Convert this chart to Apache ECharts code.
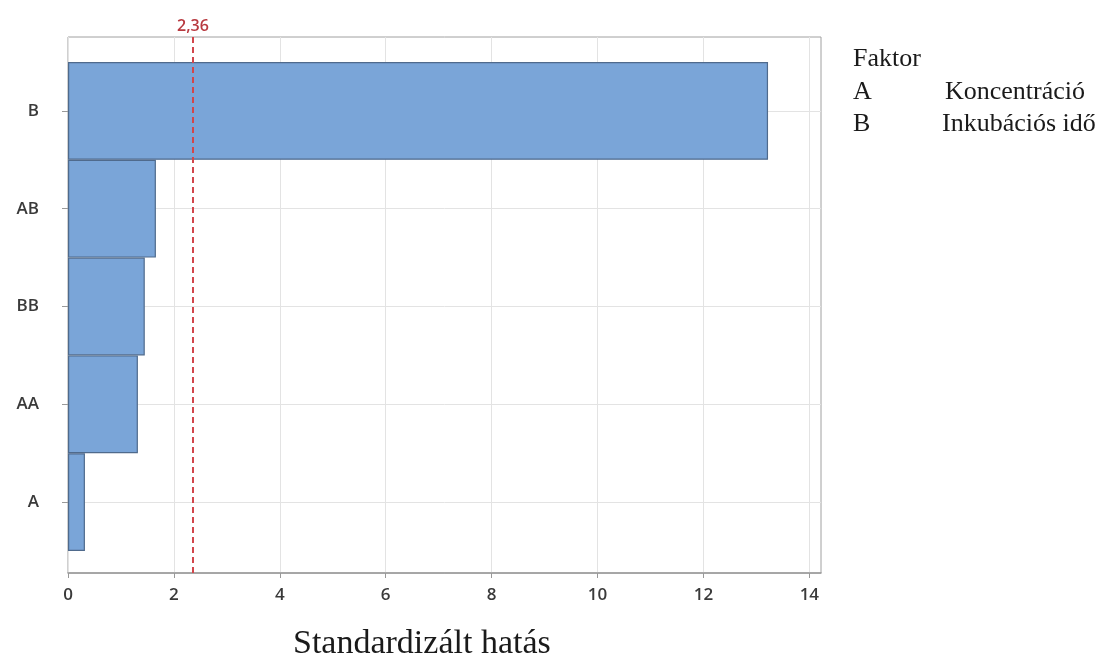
<!DOCTYPE html>
<html>
<head>
<meta charset="utf-8">
<script src="https://cdn.jsdelivr.net/npm/echarts@6/dist/echarts.min.js"></script>
<style>
    html, body { margin: 0; padding: 0; background: #fff; }
    #chart { width: 1107px; height: 664px; }
</style>
</head>
<body>
<div id="chart"></div>
<script>
// adatok
var categories = ['B', 'AB', 'BB', 'AA', 'A'];
var effects = [13.22, 1.66, 1.45, 1.32, 0.32];
var critical = 2.36;
var xMax = 14.22;
var xTicks = [0, 2, 4, 6, 8, 10, 12, 14];
var factorKeys = ['A', 'B'];
var factorNames = ['Koncentráció', 'Inkubációs idő'];

var myChart = echarts.init(document.getElementById('chart'));

var labelFont = {
    fontFamily: 'Open Sans',
    fontWeight: 600,
    fontSize: 17,
    color: '#3a3a3a'
};

// jobb felső "Faktor" magyarázat
var legendGraphics = [{
    type: 'text',
    left: 853,
    top: 46,
    style: { text: 'Faktor', font: '26px "Liberation Serif"', fill: '#1a1a1a' }
}];
for (let i = 0; i < factorKeys.length; i++) {
    legendGraphics.push({
        type: 'text',
        left: 853,
        top: 79 + i * 32,
        style: { text: factorKeys[i], font: '26px "Liberation Serif"', fill: '#1a1a1a' }
    });
    legendGraphics.push({
        type: 'text',
        left: i == 0 ? 945 : 942,
        top: 79 + i * 32,
        style: { text: factorNames[i], font: '26px "Liberation Serif"', fill: '#1a1a1a' }
    });
}
legendGraphics.push({
    type: 'text',
    left: 293,
    top: 627,
    style: { text: 'Standardizált hatás', font: '34px "Liberation Serif"', fill: '#1a1a1a' }
});

var option = {
    animation: false,
    backgroundColor: '#fff',
    grid: [
        { left: 68, top: 37, width: 753, height: 536, show: true, borderColor: '#a0a0a0', borderWidth: 1, containLabel: false },
        { left: 68, top: 62, width: 753, height: 489, containLabel: false }
    ],
    xAxis: [
        {
            type: 'value',
            gridIndex: 0,
            min: 0,
            max: xMax,
            interval: 2,
            axisLine: { show: true, lineStyle: { color: '#999', width: 1.5 } },
            axisTick: { show: true, length: 5, customValues: xTicks, lineStyle: { color: '#999' } },
            axisLabel: Object.assign({ margin: 14, customValues: xTicks }, labelFont),
            splitLine: { show: true, lineStyle: { color: '#e3e3e3' } }
        },
        {
            type: 'value',
            gridIndex: 1,
            min: 0,
            max: xMax,
            show: false
        }
    ],
    yAxis: [
        {
            type: 'value',
            gridIndex: 0,
            min: 0,
            max: 1,
            show: false
        },
        {
            type: 'category',
            gridIndex: 1,
            data: categories,
            inverse: true,
            axisLine: { show: false },
            axisTick: { show: true, alignWithLabel: true, length: 6, inside: false, lineStyle: { color: '#999' } },
            axisLabel: Object.assign({ margin: 29 }, labelFont),
            splitLine: { show: true, alignWithLabel: true, lineStyle: { color: '#e3e3e3' } }
        }
    ],
    series: [
        {
            type: 'line',
            xAxisIndex: 0,
            yAxisIndex: 0,
            data: [],
            markLine: {
                silent: true,
                symbol: 'none',
                data: [{ xAxis: critical }],
                lineStyle: { color: '#d2464b', type: [6, 4], width: 2 },
                label: {
                    show: true,
                    position: 'end',
                    distance: 3,
                    formatter: '2,36',
                    color: '#b83a40',
                    fontFamily: 'Open Sans',
                    fontWeight: 600,
                    fontSize: 16
                }
            }
        },
        {
            type: 'bar',
            xAxisIndex: 1,
            yAxisIndex: 1,
            data: effects,
            barCategoryGap: 0,
            z: 1,
            itemStyle: {
                color: '#7aa5d8',
                borderColor: '#4f6a8c',
                borderWidth: 1.2
            }
        }
    ],
    graphic: legendGraphics
};

myChart.setOption(option);
</script>
</body>
</html>
